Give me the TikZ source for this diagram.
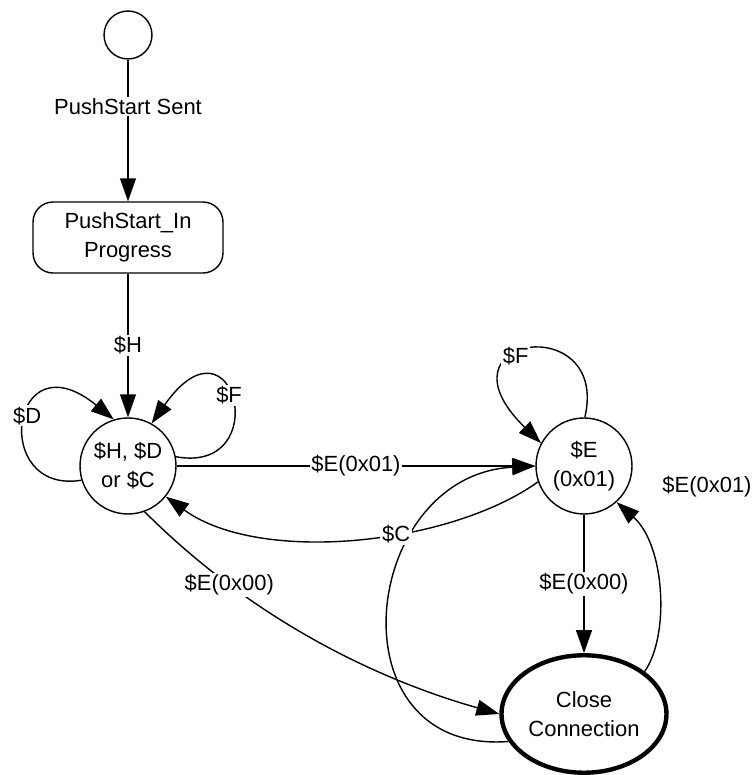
\documentclass[tikz,border=0pt]{standalone}
\usepackage{fontspec}
\setmainfont{Liberation Sans}
\usepackage{tikz}
\usetikzlibrary{arrows.meta,shapes.geometric}
\tikzset{state/.style={draw, circle, line width=0.8pt, minimum size=1.92cm, inner sep=0pt, align=center}}
\tikzset{lbl/.style={fill=white, inner sep=1pt}}
\tikzset{tr/.style={-{Triangle[length=0.46cm,width=0.32cm]}, line width=0.8pt}}

\begin{document}
\begin{tikzpicture}[x=0.02cm, y=0.02cm, font=\fontsize{12.5}{16.5}\selectfont]
        \useasboundingbox (0,0) rectangle (754,775);
        \node [draw, circle, line width=0.8pt, minimum size=0.96cm, inner sep=0pt] (init) at (128,740) {};
        \node [draw, rounded corners=0.4cm, line width=0.8pt, minimum width=3.8cm, minimum height=1.42cm, align=center] (prog) at (128,537.5) {PushStart\_In\\Progress};
        \node [state] (hdc) at (128,309) {\$H, \$D\\or \$C};
        \node [state] (eon) at (584,309) {\$E\\(0x01)};
        \node [draw, ellipse, line width=2.5pt, minimum width=3.3cm, minimum height=2.35cm, inner sep=0pt, align=center] (close) at (584,61) {Close\\Connection};
        \draw [tr] (init) -- node [lbl, pos=0.33] (sent) {PushStart Sent} (prog);
        \draw [tr] (prog) -- node [lbl] (lh) {\$H} (hdc);
        \draw [tr] (hdc.197) .. controls (-10,280) and (10,440) .. node [lbl, pos=0.55] (ld) {\$D} (hdc.107);
        \draw [tr] (hdc.11) .. controls (275,300) and (235,470) .. node [lbl, pos=0.55] (lfl) {\$F} (hdc.61);
        \draw [tr] (hdc) -- node [lbl] (lmid) {\$E(0x01)} (eon);
        \draw [tr] (eon.89) .. controls (610,465) and (430,440) .. node [lbl, pos=0.6] (lfr) {\$F} (eon.152);
        \draw [tr] (close.200) .. controls (330,20) and (360,300) .. (eon.180);
        \draw [tr] (eon.199) .. controls (450,230) and (260,210) .. node [lbl, pos=0.4] (lc) {\$C} (hdc.321);
        \draw [tr] (hdc.290) .. controls (254,154) and (379,95) .. node [lbl, pos=0.25] (lel) {\$E(0x00)} (close.west);
        \draw [tr] (eon) -- node [lbl] (ler) {\$E(0x00)} (close);
        \draw [tr] (close.35) .. controls (670,140) and (665,230) .. (eon.-48);
        \node (lerr) at (707,288) {\$E(0x01)};
\end{tikzpicture}
\end{document}
